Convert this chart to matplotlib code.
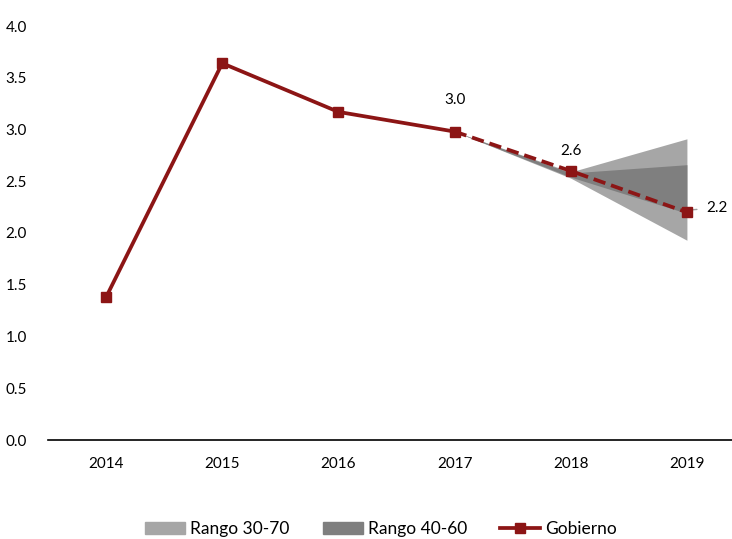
import matplotlib
matplotlib.use("Agg")
import matplotlib.pyplot as plt
from matplotlib.patches import Patch
from matplotlib.lines import Line2D

plt.rcParams['font.family'] = ['Lato', 'DejaVu Sans']

years = ["2014", "2015", "2016", "2017", "2018", "2019"]
gobierno = [1.38, 3.64, 3.17, 2.98, 2.60, 2.20]
fan_idx = [3, 4, 5]
r3070_low = [2.98, 2.53, 1.93]
r3070_high = [2.98, 2.59, 2.91]
r4060_low = [2.98, 2.54, 2.19]
r4060_high = [2.98, 2.58, 2.66]
labels_idx = [3, 4, 5]
labels_txt = ["3.0", "2.6", "2.2"]

red = "#8C1515"
light = "#A6A6A6"
dark = "#7F7F7F"

fig = plt.figure(figsize=(7.32, 5.39), dpi=100)
ax = fig.add_axes([48/732, (539-440)/539, 697/732, (440-26)/539])
x = list(range(len(years)))

ax.fill_between(fan_idx, r3070_low, r3070_high, color=light, lw=0, zorder=1)
ax.fill_between(fan_idx, r4060_low, r4060_high, color=dark, lw=0, zorder=2)

ax.plot(x[:4], gobierno[:4], color=red, lw=2.7, zorder=3)
ax.plot(x[3:], gobierno[3:], color=red, lw=2.7, ls=(0, (3.3, 1.6)), zorder=3)
ax.plot(x, gobierno, color=red, lw=0, marker='s', ms=7.5, zorder=4)

ax.annotate(labels_txt[0], (labels_idx[0], gobierno[labels_idx[0]]), xytext=(0, 18),
            textcoords='offset points', ha='center', va='bottom', fontsize=11)
ax.annotate(labels_txt[1], (labels_idx[1], gobierno[labels_idx[1]]), xytext=(0, 9),
            textcoords='offset points', ha='center', va='bottom', fontsize=11)
ax.annotate(labels_txt[2], (labels_idx[2], gobierno[labels_idx[2]]), xytext=(14, 3),
            textcoords='offset points', ha='left', va='center', fontsize=11)
# leader line for 2.2
ax.annotate("", (labels_idx[2], gobierno[labels_idx[2]] + 0.02),
            xytext=(labels_idx[2] + 0.11, gobierno[labels_idx[2]] + 0.03),
            arrowprops=dict(arrowstyle='-', color='#A0A0A0', lw=1))

ax.set_xlim(-0.5, 5.5)
ax.set_ylim(0, 4.0)
ax.set_xticks(x)
ax.set_xticklabels(years, fontsize=11)
ax.set_yticks([0, 0.5, 1.0, 1.5, 2.0, 2.5, 3.0, 3.5, 4.0])
ax.set_yticklabels([f"{v:.1f}" for v in [0, 0.5, 1.0, 1.5, 2.0, 2.5, 3.0, 3.5, 4.0]], fontsize=11)
ax.tick_params(axis='both', length=0)
ax.tick_params(axis='x', pad=12)
ax.tick_params(axis='y', pad=15)
for s in ['top', 'right', 'left']:
    ax.spines[s].set_visible(False)
ax.spines['bottom'].set_color('black')
ax.spines['bottom'].set_linewidth(1.2)
ax.spines['bottom'].set_clip_on(False)

handles = [Patch(color=light, label="Rango 30-70"),
           Patch(color=dark, label="Rango 40-60"),
           Line2D([0], [0], color=red, lw=2.7, marker='s', ms=7.5, label="Gobierno")]
fig.legend(handles=handles, loc='lower center', bbox_to_anchor=(381/732, -0.026), ncol=3,
           frameon=False, fontsize=12.5, handlelength=2.3, handleheight=0.7,
           columnspacing=1.9, handletextpad=0.3)

fig.savefig("out.png", dpi=100)
